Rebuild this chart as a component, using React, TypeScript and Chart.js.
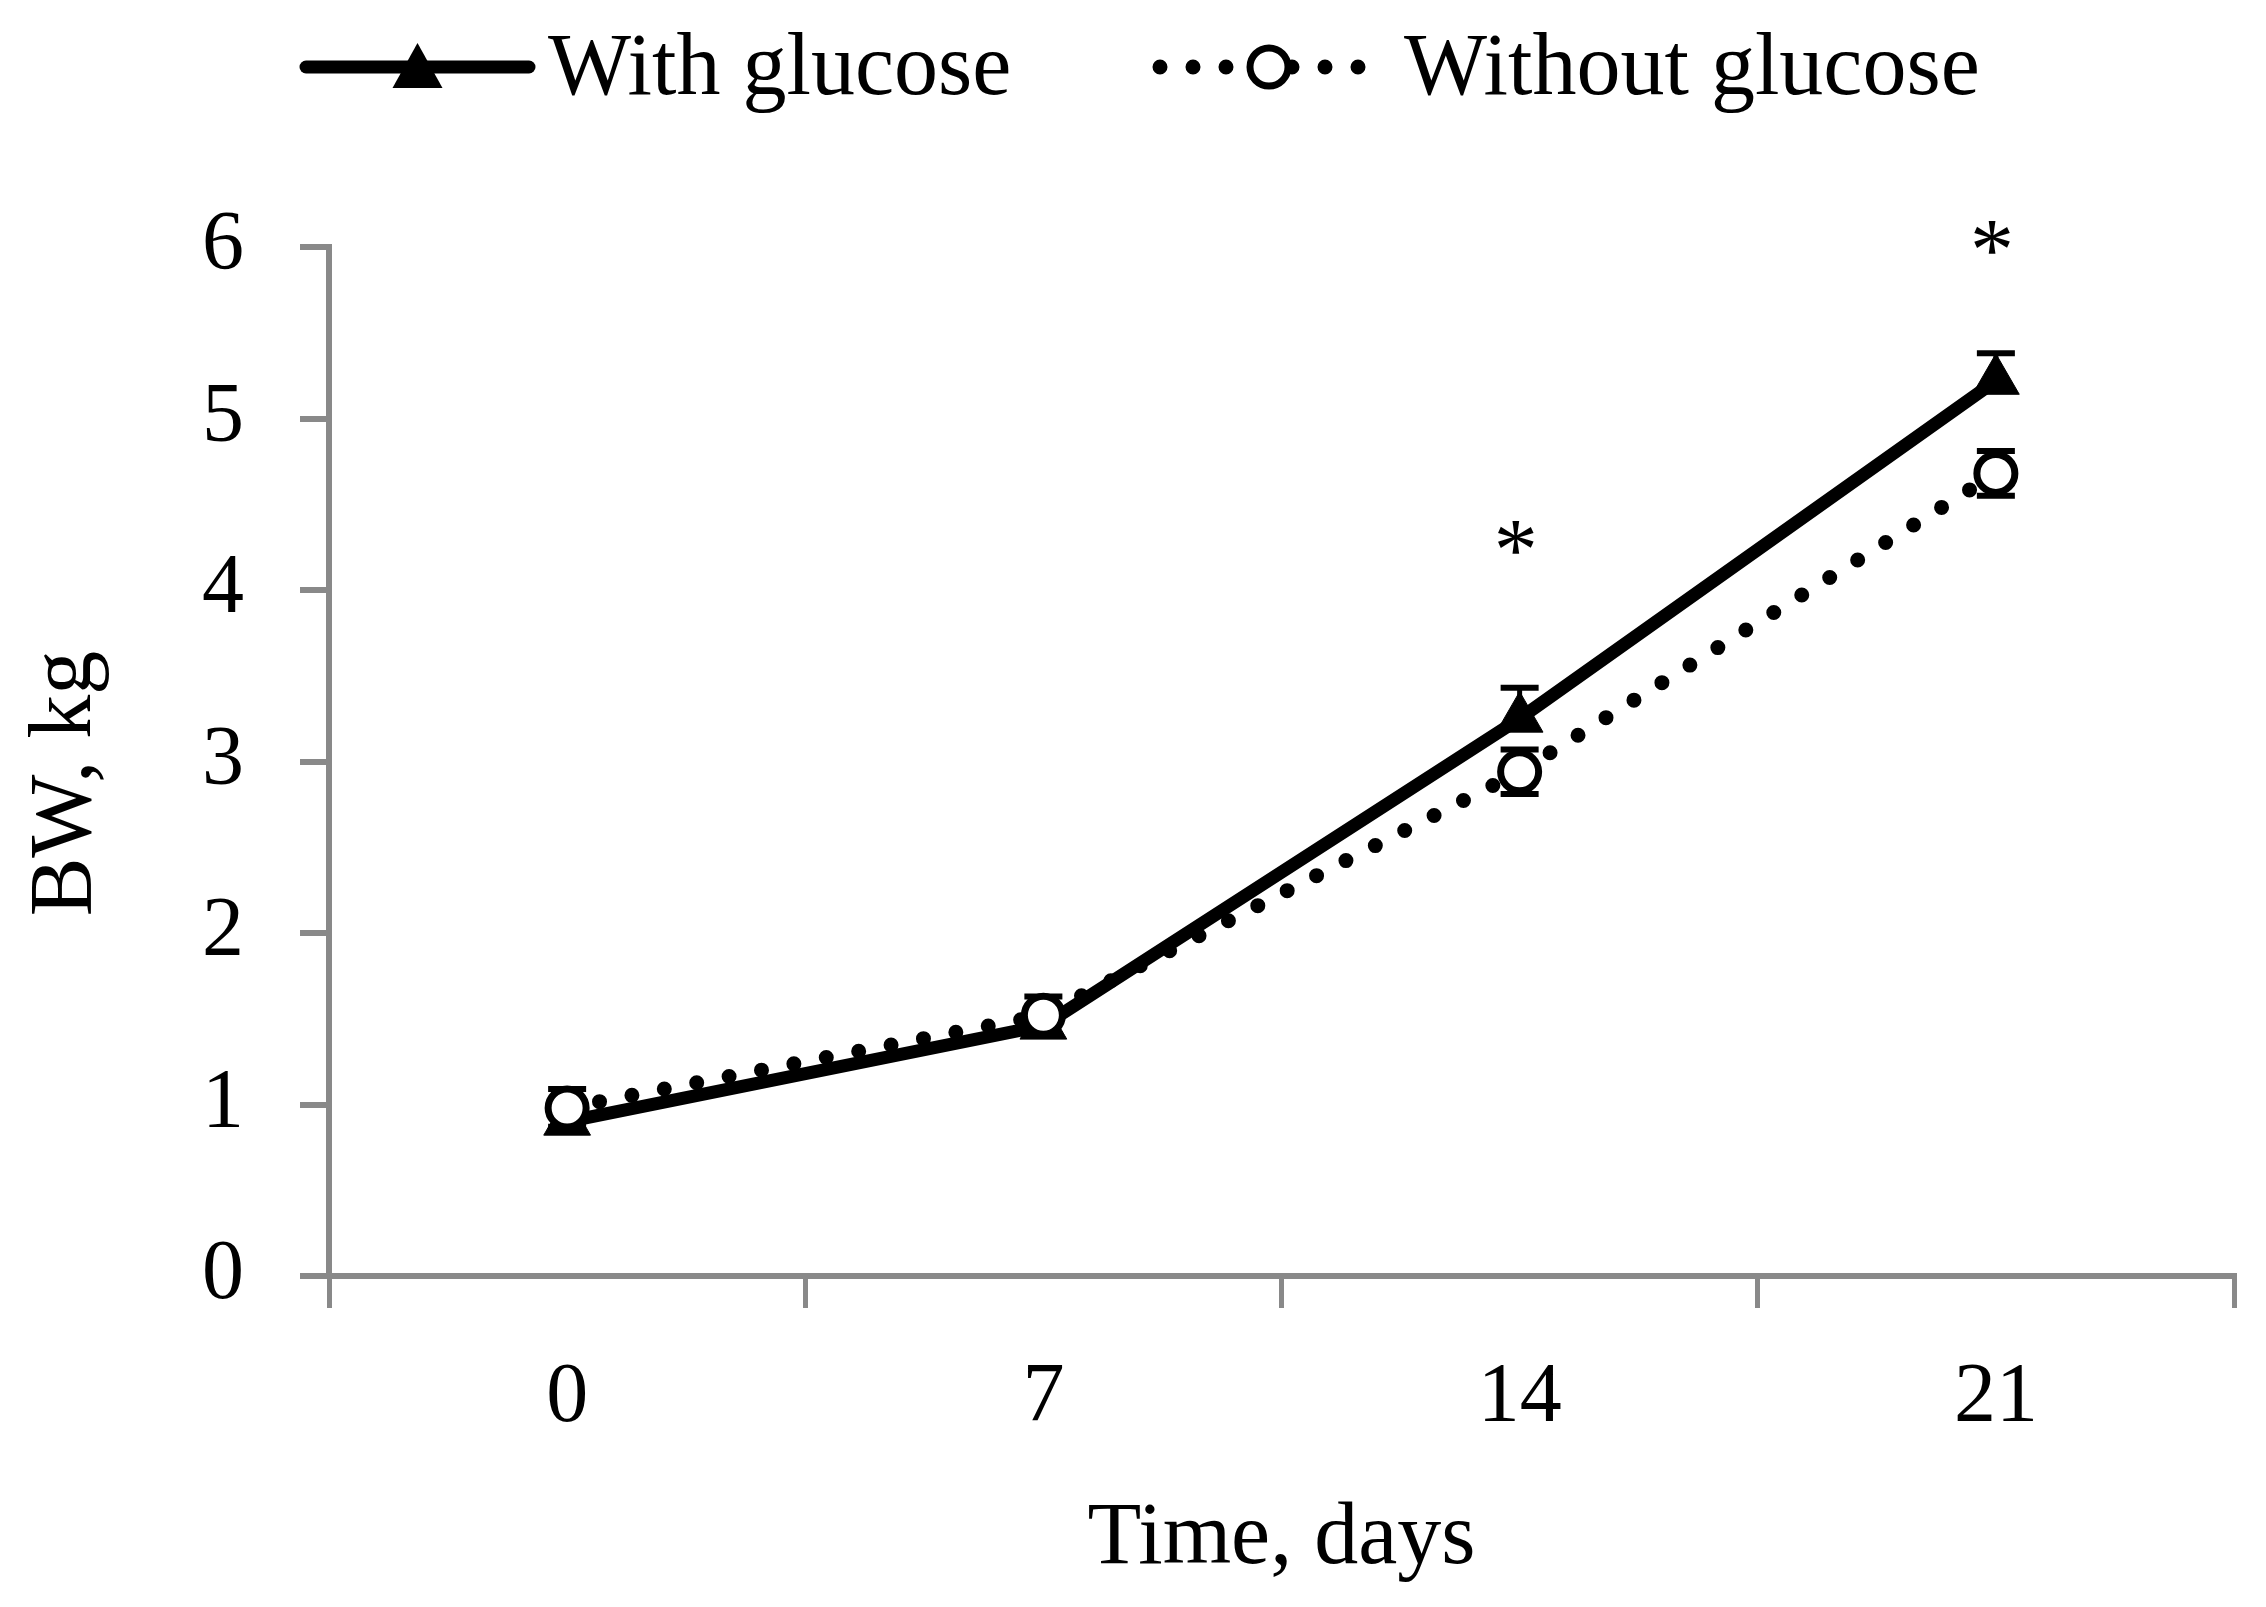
import React, { useEffect, useRef } from 'react';
import { Chart, registerables } from 'chart.js';

Chart.register(...registerables);

// ---- data ----
const days = ['0', '7', '14', '21'];
const withGlucose = [0.9, 1.46, 3.25, 5.22];
const withGlucoseErr = [0.05, 0.05, 0.18, 0.16];
const withoutGlucose = [0.98, 1.52, 2.94, 4.68];
const withoutGlucoseErr = [0.11, 0.11, 0.13, 0.13];
const significance = ['', '', '*', '*'];
const significanceAt = [null, null, 4.32, 6.07];

const FONT = '"Liberation Serif", "Times New Roman", serif';
const AXIS = '#898989';

const errorBarPlugin = {
  id: 'errorBars',
  beforeDatasetsDraw(chart: any) {
    const { ctx } = chart;
    const y = chart.scales.y;
    chart.data.datasets.forEach((ds: any, i: number) => {
      const meta = chart.getDatasetMeta(i);
      if (meta.hidden || !ds.errors) return;
      ctx.save();
      ctx.strokeStyle = '#000';
      meta.data.forEach((pt: any, j: number) => {
        const v = ds.data[j];
        const e = ds.errors[j];
        const top = y.getPixelForValue(v + e);
        const bot = ds.errorPlusOnly ? pt.y : y.getPixelForValue(v - e);
        ctx.lineWidth = 5;
        ctx.beginPath();
        ctx.moveTo(pt.x, top);
        ctx.lineTo(pt.x, bot);
        ctx.stroke();
        ctx.lineWidth = 6;
        ctx.beginPath();
        ctx.moveTo(pt.x - 19, top);
        ctx.lineTo(pt.x + 19, top);
        if (!ds.errorPlusOnly) {
          ctx.moveTo(pt.x - 19, bot);
          ctx.lineTo(pt.x + 19, bot);
        }
        ctx.stroke();
      });
      ctx.restore();
    });
  },
};

const significancePlugin = {
  id: 'significance',
  afterDatasetsDraw(chart: any) {
    const { ctx } = chart;
    const x = chart.scales.x;
    const y = chart.scales.y;
    ctx.save();
    ctx.fillStyle = '#000';
    ctx.font = `88px ${FONT}`;
    ctx.textAlign = 'center';
    ctx.textBaseline = 'middle';
    significance.forEach((s, i) => {
      const v = significanceAt[i];
      if (!s || v == null) return;
      ctx.fillText(s, x.getPixelForValue(i) - 4, y.getPixelForValue(v) + 21);
    });
    ctx.restore();
  },
};

const legendPlugin = {
  id: 'customLegend',
  afterDraw(chart: any) {
    const { ctx } = chart;
    const cy = 67;
    const items = [
      { ds: 0, x0: 306, x1: 529, tx: 548 },
      { ds: 1, x0: 1160, x1: 1378, tx: 1404 },
    ];
    ctx.save();
    items.forEach((it) => {
      const ds: any = chart.data.datasets[it.ds];
      const cx = (it.x0 + it.x1) / 2;
      ctx.strokeStyle = ds.borderColor;
      ctx.lineWidth = ds.borderWidth;
      ctx.lineCap = 'round';
      ctx.setLineDash(ds.borderDash || []);
      ctx.beginPath();
      ctx.moveTo(it.x0, cy);
      ctx.lineTo(it.x1, cy);
      ctx.stroke();
      ctx.setLineDash([]);
      if (ds.pointStyle === 'triangle') {
        ctx.fillStyle = ds.pointBackgroundColor;
        ctx.beginPath();
        ctx.moveTo(cx, cy - 24);
        ctx.lineTo(cx + 25, cy + 21);
        ctx.lineTo(cx - 25, cy + 21);
        ctx.closePath();
        ctx.fill();
      } else {
        ctx.fillStyle = ds.pointBackgroundColor;
        ctx.strokeStyle = ds.pointBorderColor;
        ctx.lineWidth = ds.pointBorderWidth;
        ctx.beginPath();
        ctx.arc(cx, cy, ds.pointRadius, 0, Math.PI * 2);
        ctx.fill();
        ctx.stroke();
      }
      ctx.fillStyle = '#000';
      ctx.font = `88px ${FONT}`;
      ctx.textAlign = 'left';
      ctx.textBaseline = 'middle';
      ctx.fillText(ds.label, it.tx, cy + 4);
    });
    ctx.restore();
  },
};

export default function App() {
  const ref = useRef<HTMLCanvasElement | null>(null);

  useEffect(() => {
    document.body.style.margin = '0';
    document.body.style.overflow = 'hidden';
    const canvas = ref.current;
    if (!canvas) return;
    const chart = new Chart(canvas, {
      type: 'line',
      data: {
        labels: days,
        datasets: [
          {
            label: 'With glucose',
            data: withGlucose,
            errors: withGlucoseErr,
            errorPlusOnly: true,
            borderColor: '#000',
            borderWidth: 13,
            pointStyle: 'triangle',
            pointRadius: 27,
            pointBackgroundColor: '#000',
            pointBorderColor: '#000',
            pointBorderWidth: 1,
            order: 2,
          } as any,
          {
            label: 'Without glucose',
            data: withoutGlucose,
            errors: withoutGlucoseErr,
            borderColor: '#000',
            borderWidth: 15,
            borderDash: [0, 33],
            borderCapStyle: 'round',
            pointStyle: 'circle',
            pointRadius: 19,
            pointBackgroundColor: '#fff',
            pointBorderColor: '#000',
            pointBorderWidth: 7,
            order: 1,
          } as any,
        ],
      },
      options: {
        responsive: false,
        animation: false,
        devicePixelRatio: 1,
        layout: { padding: { top: 247, right: 32, bottom: 0, left: 0 } },
        plugins: {
          legend: { display: false },
          tooltip: { enabled: false },
        },
        scales: {
          x: {
            type: 'category',
            offset: true,
            grid: {
              display: true,
              drawOnChartArea: false,
              drawTicks: true,
              tickLength: 32,
              offset: true,
              color: AXIS,
              lineWidth: 5,
            },
            border: { display: true, color: AXIS, width: 6 },
            ticks: { color: '#000', font: { family: FONT, size: 84 }, padding: 41 },
            title: {
              display: true,
              text: 'Time, days',
              color: '#000',
              font: { family: FONT, size: 88 },
              padding: { top: 0, bottom: 14 },
            },
            afterFit: (scale: any) => {
              scale.height = 331;
            },
          },
          y: {
            min: 0,
            max: 6,
            ticks: { stepSize: 1, color: '#000', font: { family: FONT, size: 84 }, padding: 56 },
            grid: {
              display: true,
              drawOnChartArea: false,
              drawTicks: true,
              tickLength: 29,
              color: AXIS,
              lineWidth: 6,
            },
            border: { display: true, color: AXIS, width: 6 },
            title: {
              display: true,
              text: 'BW, kg\u2002',
              color: '#000',
              font: { family: FONT, size: 88 },
              padding: { top: 14, bottom: 0 },
            },
            afterFit: (scale: any) => {
              scale.width = 329;
            },
          },
        },
      } as any,
      plugins: [errorBarPlugin, significancePlugin, legendPlugin],
    });
    return () => chart.destroy();
  }, []);

  return (
    <div style={{ width: 2266, height: 1607 }}>
      <canvas ref={ref} width={2266} height={1607} style={{ width: 2266, height: 1607, display: 'block' }} />
    </div>
  );
}
